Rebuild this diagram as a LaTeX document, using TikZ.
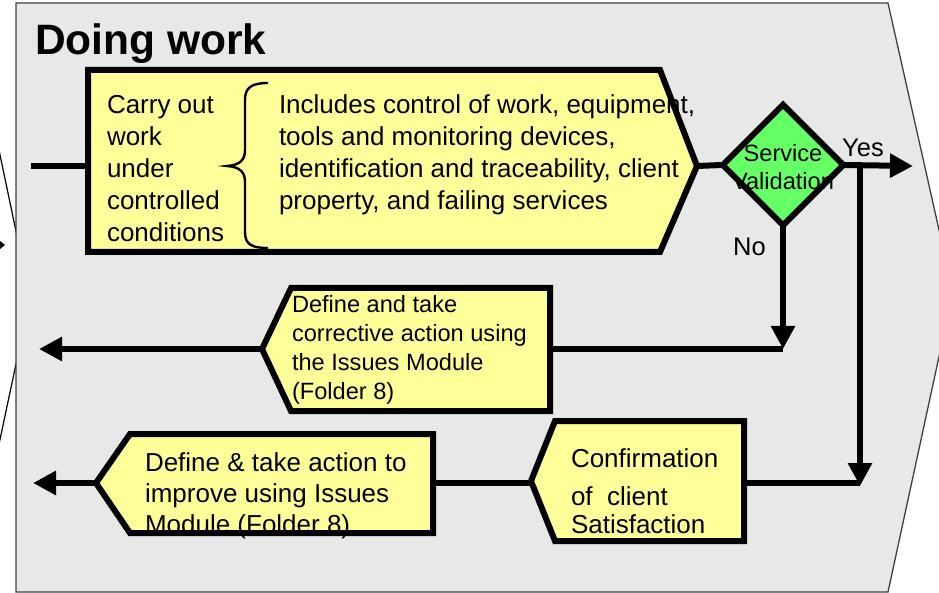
\documentclass[tikz,border=0pt]{standalone}
\usepackage{fontspec}
\setmainfont{Liberation Sans}
\usetikzlibrary{arrows.meta,shapes.geometric}
\definecolor{panelgrey}{HTML}{E8E8E8}
\definecolor{boxyellow}{HTML}{FFFF99}
\definecolor{valgreen}{HTML}{66FF66}
\begin{document}
\begin{tikzpicture}[x=1pt,y=-1pt,
  flow/.style={line width=6pt},
  arr/.style={flow,-{Triangle[length=23pt,width=23pt]}},
  boxfill/.style={fill=boxyellow},
  boxline/.style={line width=6pt,line join=miter},
  txt/.style={inner sep=0pt,outer sep=0pt,anchor=base west,align=left},
  bigtxt/.style={txt,font=\fontsize{26}{32}\selectfont},
  midtxt/.style={txt,font=\fontsize{23.6}{29}\selectfont},
  lbl/.style={inner sep=0pt,anchor=base west,font=\fontsize{25.5}{30}\selectfont},
  valshape/.style={diamond,minimum width=123pt,minimum height=123pt,inner sep=0pt},
]
\useasboundingbox (0,0) rectangle (939,593);
\clip (0,0) rectangle (939,593);
% previous panel (partly hidden)
\draw[line width=1.2pt,fill=white] (-5,131) -- (30,298) -- (-5,463);
\fill (0,241) -- (5,245) -- (0,249) -- cycle;
% this panel
\draw[line width=1.3pt,draw=black!75,fill=panelgrey]
  (16,3) -- (888,3) -- (953,292) -- (888,592) -- (16,592) -- cycle;
\node[inner sep=0pt,anchor=base west,font=\bfseries\fontsize{42.5}{50}\selectfont] (title) at (35,55) {Doing work};

% named points
\coordinate (inL) at (31,166);
\coordinate (b1w) at (88,166);
\coordinate (b1e) at (697,166);
\coordinate (yesend) at (913,166);
\coordinate (yesj) at (860,166);
\coordinate (yesd) at (860,486);
\coordinate (yesrow) at (860,483);
\coordinate (noj) at (783,349);
\coordinate (b2w) at (262,349);
\coordinate (b2e) at (550,349);
\coordinate (out2) at (39,349);
\coordinate (b3w) at (531,483);
\coordinate (b3e) at (744,483);
\coordinate (b4w) at (96,483);
\coordinate (b4e) at (433,483);
\coordinate (out4) at (33,483);

\node[valshape,fill=valgreen] (val) at (783,165) {};

% connectors
\draw[flow] (inL) -- (b1w);
\draw[flow] (b1e) -- (val.west);
\draw[arr] (val.east) -- (yesend);
\draw[arr] (yesj) -- (yesd);
\draw[flow] (b3e) -- (yesrow);
\draw[arr] (val.south) -- (noj);
\draw[flow] (b2e) -- (noj);
\draw[arr] (b2w) -- (out2);
\draw[flow] (b3w) -- (b4e);
\draw[arr] (b4w) -- (out4);

% box fills
\path[boxfill] (88,70) -- (660,70) -- (697,166) -- (660,252) -- (88,252) -- cycle;
\path[boxfill] (262,349) -- (291,288) -- (550,288) -- (550,411) -- (291,411) -- cycle;
\path[boxfill] (531,481) -- (555,421) -- (744,421) -- (744,541) -- (555,541) -- cycle;
\path[boxfill] (96,483) -- (130,434) -- (433,434) -- (433,533) -- (130,533) -- cycle;

% texts (node base = baseline of the last line)
\node[bigtxt] (t1) at (107,242) {Carry out\\work\\under\\controlled\\conditions};
\node[bigtxt] (t2) at (279,210) {Includes control of work, equipment,\\tools and monitoring devices,\\identification and traceability, client\\property, and failing services};
\node[midtxt] (t3) at (292,399) {Define and take\\corrective action using\\the Issues Module\\(Folder 8)};
\node[txt,font=\fontsize{26}{28}\selectfont] (t4) at (571,533) {Confirmation\\[10pt]of\ \ client\\Satisfaction};
\node[bigtxt,font=\fontsize{26}{31}\selectfont] (t5) at (145,533) {Define \& take action to\\improve using Issues\\Module (Folder 8)};
\node[inner sep=0pt,anchor=base,align=center,font=\fontsize{23.6}{28}\selectfont] (vt) at (783,190) {Service\\Validation};
\node[lbl] (yes) at (842,157) {Yes};
\node[lbl] (no) at (733,256) {No};

% brace
\draw[line width=2.4pt] (268,83) .. controls (251,83) and (245,88) .. (245,100) -- (245,150)
  .. controls (245,160) and (240,165) .. (227,166) .. controls (240,167) and (245,172) .. (245,182)
  -- (245,232) .. controls (245,244) and (251,248) .. (268,248);

% borders
\draw[boxline] (88,70) -- (660,70) -- (697,166) -- (660,252) -- (88,252) -- cycle;
\draw[boxline] (262,349) -- (291,288) -- (550,288) -- (550,411) -- (291,411) -- cycle;
\draw[boxline] (531,481) -- (555,421) -- (744,421) -- (744,541) -- (555,541) -- cycle;
\draw[boxline] (96,483) -- (130,434) -- (433,434) -- (433,533) -- (130,533) -- cycle;
\node[valshape,draw,line width=6pt] (valb) at (val) {};
\end{tikzpicture}
\end{document}
